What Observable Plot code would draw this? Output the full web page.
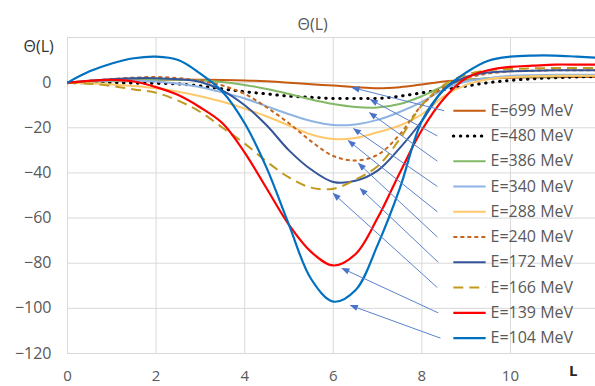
<!DOCTYPE html>
<html>
<head>
<meta charset="utf-8">
<script src="https://cdn.jsdelivr.net/npm/d3@7"></script>
<script src="https://cdn.jsdelivr.net/npm/@observablehq/plot@0.6"></script>
<style>
  html, body { margin: 0; padding: 0; background: #fff; }
  #chart { width: 595px; height: 386px; }
</style>
</head>
<body>
<div id="chart"></div>
<script>
// ---- data ----
const L = [0,0.5,1,1.5,2,2.5,3,3.5,4,4.5,5,5.5,6,6.5,7,7.5,8,8.5,9,9.5,10,10.5,11,11.5,12];
const labels = ["E=699 MeV","E=480 MeV","E=386 MeV","E=340 MeV","E=288 MeV","E=240 MeV","E=172 MeV","E=166 MeV","E=139 MeV","E=104 MeV"];
const e699 = [0,0.5,1,1.2,1.3,1.3,1.3,1.2,1,0.6,0,-0.7,-1.3,-2,-2.5,-2,-0.8,0.5,1.3,1.8,2.2,2.3,2.4,2.5,2.5];
const e480 = [0,0,0,-0.2,-0.3,-0.6,-1.5,-2.8,-4,-5,-6,-6.5,-7,-7,-7,-6,-4.5,-3,-1.5,0,1,1.7,2.2,2.5,2.7];
const e386 = [0,0.3,0.7,1,1.3,1.3,1,0.3,-1,-2.8,-5,-7.5,-9.5,-10.8,-11,-9.5,-6,-1.5,1,2,2.5,2.7,2.8,3,3];
const e340 = [0,0.5,1,1,0.5,-0.5,-2,-4.3,-7,-10.5,-14,-17,-18.8,-18.5,-16.5,-13,-8.5,-3,0.5,2,3,3.3,3.5,3.5,3.5];
const e288 = [0,-0.3,-0.8,-1.5,-2.5,-4,-6,-8.5,-11.5,-15,-19,-23,-25,-24.5,-22,-19,-14,-6,-1,1.5,2.5,2.8,3,3,3];
const e240 = [0,0.8,1.6,2.2,2.5,2,0.8,-1.3,-5,-11,-18,-26,-32.5,-34.5,-32,-23,-10,-2,2,4,5,5.3,5.5,5.5,5.5];
const e172 = [0,0.8,1.5,2,2,1.5,0.3,-3.5,-10,-19,-30,-38.5,-44,-43.5,-39,-29,-17,-3,2.5,4.5,5,5.3,5.5,5.5,5.5];
const e166 = [0,-0.5,-1.5,-3,-4.5,-8,-13,-20,-27,-35,-42,-46.5,-47,-43,-37,-25,-10,-1,3.5,5.5,6,6.3,6.5,6.5,6.5];
const e139 = [0,0.8,1.2,0.5,-2,-5.5,-11,-18,-31,-47,-63,-75,-81,-76,-60,-40,-21,-7,2,5.5,7,7.5,8,8,8];
const e104 = [0,5,8.5,10.8,11.5,10,4,-4,-18,-38,-63,-87,-97,-92,-72,-47,-17,-3,4.5,9.7,11.5,12,12,11.5,11];
const seriesValues = [e699,e480,e386,e340,e288,e240,e172,e166,e139,e104];
const colors = ["#C55A11","#000000","#82B866","#8FB4E3","#FFC96B","#C8651B","#34559A","#C09A1E","#FF0000","#0070C0"];
// annotation arrows: tip points on the curves (L, Θ)
const arrowTipL = [6.43,6.84,6.82,6.46,6.34,6.57,6.61,6.0,6.2,6.39];
const arrowTipTheta = [-2.2,-7.5,-13.3,-20.4,-25.7,-35.8,-46.9,-49.1,-82.3,-98.7];
const arrowTailL = [8.5,8.35,8.35,8.35,8.35,8.35,8.37,8.35,8.37,8.42];
const xTicks = [0,2,4,6,8,10];
const yTicks = [-120,-100,-80,-60,-40,-20,0];
const yGrid = [-120,-100,-80,-60,-40,-20,0,20];

// ---- styles ----
const styles = [
  {w:2, dash:null},
  {w:3, dash:"0.5,6.5", cap:"round"},
  {w:2, dash:null},
  {w:2, dash:null},
  {w:2, dash:null},
  {w:2, dash:"4,3"},
  {w:2, dash:null},
  {w:2, dash:"10,6"},
  {w:2.2, dash:null},
  {w:2.2, dash:null}
];
const rowTheta = i => -12.4 - 11.2*i;
const font = "'Open Sans', sans-serif";

const marks = [
  Plot.gridY(yGrid, {stroke:"#D9D9D9", strokeOpacity:1, strokeWidth:1}),
  Plot.gridX(xTicks, {stroke:"#D9D9D9", strokeOpacity:1, strokeWidth:1}),
  Plot.axisY(yTicks, {tickSize:0, tickPadding:16, fontSize:16, fill:"#595959", label:null}),
  Plot.axisX(xTicks, {tickSize:0, tickPadding:17, fontSize:15, fill:"#595959", label:null})
];

seriesValues.forEach((vals, i) => {
  const rows = L.map((x, j) => ({L: x, T: vals[j]}));
  const st = styles[i];
  marks.push(Plot.line(rows, {
    x:"L", y:"T", stroke: colors[i], strokeWidth: st.w,
    strokeDasharray: st.dash || undefined,
    strokeLinecap: st.cap || "butt",
    curve:"catmull-rom", clip:true
  }));
});

// legend
seriesValues.forEach((vals, i) => {
  const st = styles[i];
  marks.push(Plot.link([i], {
    x1: () => 8.71, x2: () => 9.44, y1: d => rowTheta(d), y2: d => rowTheta(d),
    stroke: colors[i], strokeWidth: st.w,
    strokeDasharray: st.dash || undefined,
    strokeLinecap: st.cap || "butt"
  }));
});
marks.push(Plot.text(labels, {
  x: () => 9.55, y: (d, i) => rowTheta(i), text: d => d,
  textAnchor:"start", fontSize:16, fill:"#595959", fontFamily: font
}));

// arrows
const idx = d3.range(labels.length);
marks.push(Plot.link(idx, {
  x1: i => arrowTailL[i], y1: i => rowTheta(i),
  x2: i => arrowTipL[i], y2: i => arrowTipTheta[i],
  stroke:"#5B82CC", strokeWidth:1, markerEnd:"arrow"
}));

// titles
marks.push(Plot.text(["Θ(L)"], {frameAnchor:"top-left", dx: 230, dy:-19, fontSize:16, fill:"#595959", fontFamily: font}));
marks.push(Plot.text(["Θ(L)"], {frameAnchor:"top-left", dx:-44, dy:3, fontSize:16, fill:"#333333", fontFamily: font}));
marks.push(Plot.text(["L"], {frameAnchor:"bottom-right", dx:-18, dy:22, fontSize:15, fontWeight:"bold", fill:"#262626", fontFamily: font}));

const svg = Plot.plot({
  width: 595, height: 386,
  marginTop: 37, marginBottom: 33, marginLeft: 67, marginRight: 0,
  x: {domain: [0, 11.92]},
  y: {domain: [-120, 20]},
  style: {fontFamily: font, fontSize: "16px", background: "#fff", color:"#595959"},
  marks
});

// filled triangular arrowheads
svg.querySelectorAll("marker").forEach(m => {
  m.setAttribute("viewBox", "-9 -5 10 10");
  m.setAttribute("markerWidth", "9");
  m.setAttribute("markerHeight", "9");
  m.setAttribute("fill", "#4A72C8");
  m.setAttribute("stroke", "none");
  const p = m.querySelector("path");
  if (p) {
    p.setAttribute("d", "M-8,-3.5L1,0L-8,3.5Z");
    p.setAttribute("fill", "#4A72C8");
    p.setAttribute("stroke", "none");
  }
});

document.getElementById("chart").appendChild(svg);
</script>
</body>
</html>
